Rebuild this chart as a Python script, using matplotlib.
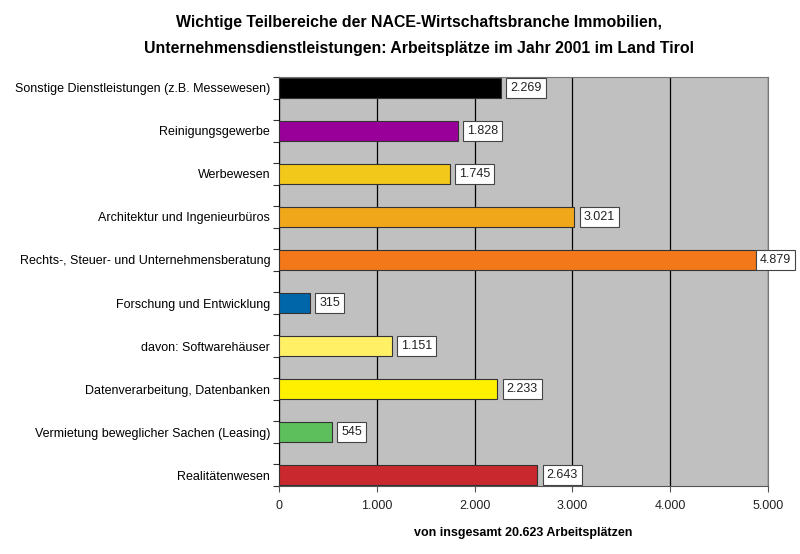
import matplotlib
matplotlib.use("Agg")
from matplotlib import pyplot as plt
from matplotlib.ticker import FuncFormatter, MultipleLocator
import numpy

categories = [
    "Sonstige Dienstleistungen (z.B. Messewesen)",
    "Reinigungsgewerbe",
    "Werbewesen",
    "Architektur und Ingenieurbüros",
    "Rechts-, Steuer- und Unternehmensberatung",
    "Forschung und Entwicklung",
    "davon: Softwarehäuser",
    "Datenverarbeitung, Datenbanken",
    "Vermietung beweglicher Sachen (Leasing)",
    "Realitätenwesen",
]
values = [2269, 1828, 1745, 3021, 4879, 315, 1151, 2233, 545, 2643]
colors = ["#000000", "#990099", "#F2C81A", "#F0A81A", "#F27819",
          "#0066AA", "#FFF066", "#FFF000", "#5CBF5C", "#C8282E"]
xticks = [0, 1000, 2000, 3000, 4000, 5000]

plt.rcParams["font.family"] = ["Liberation Sans", "DejaVu Sans"]


def de(v, pos=None):
    return f"{int(v):,}".replace(",", ".")


fig = plt.figure(figsize=(8, 5.54), dpi=100)
ax = fig.add_axes([279 / 800, 1 - 486 / 554, 489 / 800, 409 / 554])
ax.set_facecolor("#C0C0C0")

y = numpy.arange(len(categories))
ax.barh(y, values, height=0.47, color=colors, edgecolor="#333333", linewidth=0.8, zorder=3)

for yi, v in zip(y, values):
    # Excel schiebt das Label in den Plotbereich, wenn es rechts nicht passt
    xpos = min(v + 95, 4915)
    ax.text(xpos, yi, de(v), va="center", ha="left", fontsize=9, color="#222222",
            bbox=dict(boxstyle="square,pad=0.33", facecolor="white", edgecolor="#444444", linewidth=0.8),
            zorder=4, clip_on=False)

ax.set_xlim(0, 5000)
ax.set_ylim(9.25, -0.25)
ax.set_xticks(xticks)
ax.xaxis.set_major_formatter(FuncFormatter(de))
ax.xaxis.grid(True, color="black", linewidth=0.9, zorder=1)
ax.set_axisbelow(True)

ax.yaxis.set_major_locator(MultipleLocator(0.5, offset=0.25))
ax.set_yticklabels([])
ax.tick_params(axis="y", which="major", length=4, width=0.8, color="#333333")
for yi, c in zip(y, categories):
    ax.text(-0.018, yi, c, transform=ax.get_yaxis_transform(), ha="right", va="center_baseline", fontsize=9)

ax.tick_params(axis="x", length=4, width=0.8, color="#555555", labelsize=9, pad=6, labelcolor="#222222")
for s in ["top", "right"]:
    ax.spines[s].set_color("#777777")
ax.spines["bottom"].set_color("#555555")
ax.spines["left"].set_color("black")

ax.set_xlabel("von insgesamt 20.623 Arbeitsplätzen", fontsize=9, fontweight="bold", labelpad=11)

title_font = dict(ha="center", va="center", fontsize=11.4, fontweight="bold")
fig.text(0.524, 1 - 22 / 554, "Wichtige Teilbereiche der NACE-Wirtschaftsbranche Immobilien,", **title_font)
fig.text(0.524, 1 - 48 / 554, "Unternehmensdienstleistungen: Arbeitsplätze im Jahr 2001 im Land Tirol", **title_font)

fig.savefig("out.png", dpi=100)
